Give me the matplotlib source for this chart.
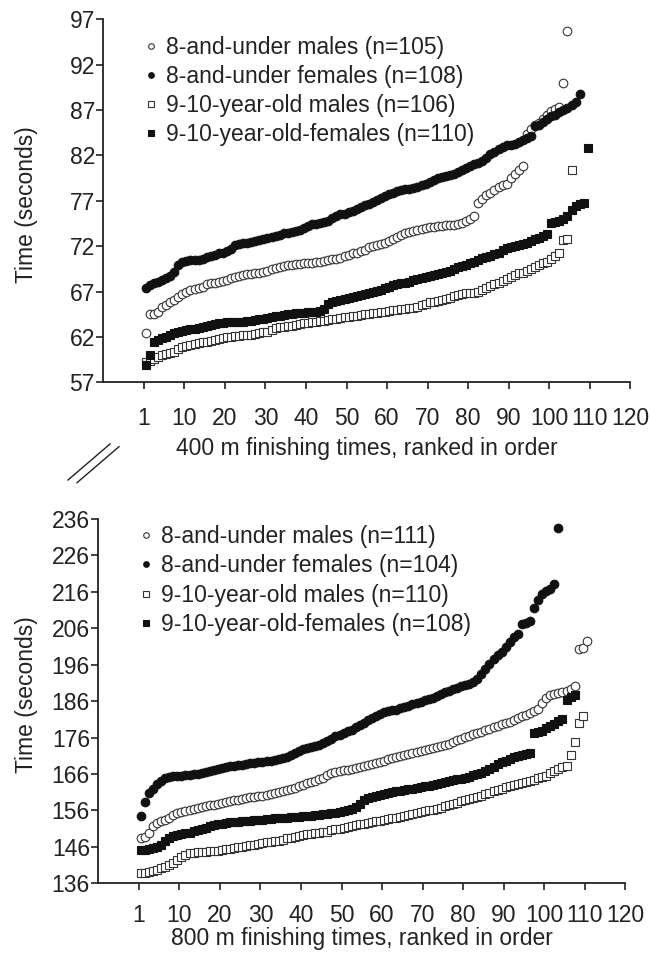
import numpy as np
import matplotlib.pyplot as plt
from matplotlib.lines import Line2D

plt.rcParams['font.family'] = ['Liberation Sans', 'DejaVu Sans']

# ---- 400 m times (seconds), ranked ----
m8_400 = [62.4, 64.5, 64.5, 64.7, 65.3, 65.5, 65.8, 66.1, 66.4, 66.7,
          67.0, 67.2, 67.3, 67.4, 67.5, 67.8, 67.9, 68.0, 68.1, 68.2,
          68.3, 68.5, 68.6, 68.7, 68.8, 68.9, 68.9, 69.0, 69.1, 69.2,
          69.3, 69.5, 69.6, 69.7, 69.8, 69.9, 69.9, 70.0, 70.0, 70.1,
          70.2, 70.2, 70.3, 70.3, 70.4, 70.5, 70.6, 70.6, 70.7, 70.9,
          71.0, 71.2, 71.3, 71.5, 71.6, 71.9, 72.0, 72.1, 72.2, 72.4,
          72.6, 72.8, 73.0, 73.2, 73.4, 73.6, 73.7, 73.8, 73.9, 74.0,
          74.1, 74.1, 74.2, 74.2, 74.3, 74.3, 74.3, 74.4, 74.6, 74.8,
          75.0, 75.3, 76.8, 77.2, 77.6, 77.9, 78.2, 78.5, 78.7, 78.8,
          79.5, 79.9, 80.4, 80.8, 84.4, 84.9, 85.3, 85.6, 86.0, 86.5,
          86.9, 87.1, 87.3, 90.0, 95.7]
f8_400 = [67.4, 67.7, 67.9, 68.1, 68.3, 68.5, 68.7, 69.2, 69.9, 70.3,
          70.4, 70.5, 70.5, 70.5, 70.6, 70.8, 70.9, 71.0, 71.2, 71.3,
          71.5, 71.7, 72.1, 72.2, 72.3, 72.4, 72.5, 72.6, 72.7, 72.8,
          72.9, 73.0, 73.1, 73.2, 73.4, 73.5, 73.6, 73.7, 73.8, 74.0,
          74.2, 74.4, 74.5, 74.6, 74.7, 74.8, 75.1, 75.3, 75.5, 75.6,
          75.8, 75.9, 76.1, 76.3, 76.5, 76.7, 76.9, 77.1, 77.3, 77.5,
          77.7, 77.9, 78.1, 78.2, 78.3, 78.3, 78.4, 78.5, 78.7, 78.9,
          79.1, 79.3, 79.5, 79.6, 79.7, 79.8, 80.0, 80.2, 80.4, 80.6,
          80.8, 81.0, 81.2, 81.4, 81.7, 82.1, 82.4, 82.7, 82.9, 83.1,
          83.2, 83.3, 83.5, 83.7, 83.9, 84.1, 85.2, 85.4, 85.7, 86.0,
          86.3, 86.5, 86.8, 87.0, 87.2, 87.5, 87.9, 88.8]
m910_400 = [59.2, 59.4, 59.6, 59.8, 60.0, 60.1, 60.2, 60.4, 60.7, 60.9,
            61.0, 61.1, 61.2, 61.3, 61.4, 61.5, 61.6, 61.7, 61.8, 61.9,
            62.0, 62.0, 62.1, 62.1, 62.2, 62.2, 62.2, 62.3, 62.4, 62.5,
            62.6, 62.8, 63.0, 63.1, 63.1, 63.2, 63.2, 63.3, 63.4, 63.5,
            63.5, 63.6, 63.7, 63.8, 63.8, 63.9, 64.0, 64.0, 64.1, 64.2,
            64.2, 64.3, 64.3, 64.4, 64.5, 64.5, 64.6, 64.6, 64.7, 64.8,
            64.9, 65.0, 65.0, 65.1, 65.1, 65.2, 65.2, 65.3, 65.5, 65.6,
            65.8, 65.9, 66.0, 66.1, 66.2, 66.3, 66.5, 66.6, 66.7, 66.8,
            66.8, 66.9, 67.0, 67.2, 67.4, 67.6, 67.8, 68.0, 68.2, 68.4,
            68.6, 68.8, 69.0, 69.1, 69.3, 69.5, 69.7, 69.9, 70.1, 70.3,
            70.6, 70.9, 71.2, 72.7, 72.8, 80.4]
f910_400 = [58.9, 60.0, 61.5, 61.7, 61.9, 62.0, 62.2, 62.4, 62.6, 62.7,
            62.8, 62.9, 62.9, 63.0, 63.1, 63.2, 63.3, 63.4, 63.5, 63.5,
            63.6, 63.6, 63.6, 63.7, 63.7, 63.8, 63.8, 63.9, 64.0, 64.0,
            64.1, 64.2, 64.3, 64.3, 64.4, 64.5, 64.5, 64.6, 64.6, 64.6,
            64.7, 64.7, 64.8, 64.9, 65.1, 65.6, 65.9, 66.0, 66.1, 66.2,
            66.3, 66.4, 66.5, 66.6, 66.7, 66.8, 67.0, 67.1, 67.2, 67.4,
            67.5, 67.7, 67.8, 67.9, 68.0, 68.1, 68.3, 68.4, 68.5, 68.6,
            68.7, 68.8, 68.9, 69.0, 69.2, 69.3, 69.5, 69.7, 69.8, 69.9,
            70.1, 70.3, 70.5, 70.7, 70.8, 70.9, 71.1, 71.3, 71.6, 71.8,
            71.9, 72.0, 72.1, 72.2, 72.4, 72.6, 72.8, 72.9, 73.1, 73.3,
            74.6, 74.7, 74.8, 75.0, 75.3, 76.0, 76.4, 76.6, 76.8, 82.8]

# ---- 800 m times (seconds), ranked ----
m8_800 = [148.4, 148.8, 149.9, 151.8, 152.5, 153.0, 153.4, 154.0, 154.8, 155.3,
          155.6, 155.9, 156.2, 156.4, 156.6, 156.9, 157.1, 157.4, 157.6, 157.9,
          158.1, 158.3, 158.6, 158.8, 159.0, 159.2, 159.4, 159.6, 159.8, 159.9,
          160.1, 160.3, 160.5, 160.8, 161.1, 161.4, 161.6, 161.9, 162.2, 162.6,
          163.0, 163.4, 163.8, 164.2, 164.6, 165.0, 165.6, 166.2, 166.6, 166.8,
          167.0, 167.2, 167.4, 167.6, 167.8, 168.1, 168.4, 168.7, 169.0, 169.3,
          169.7, 170.0, 170.3, 170.6, 170.9, 171.2, 171.5, 171.7, 172.0, 172.3,
          172.6, 172.9, 173.2, 173.5, 173.8, 174.0, 174.3, 174.7, 175.2, 175.7,
          176.1, 176.5, 176.9, 177.2, 177.6, 178.0, 178.4, 178.8, 179.2, 179.6,
          180.0, 180.4, 180.8, 181.3, 181.8, 182.3, 182.8, 183.3, 183.8, 185.5,
          186.8, 187.6, 188.0, 188.3, 188.5, 188.8, 189.4, 190.2, 200.3, 200.5,
          202.4]
f8_800 = [154.5, 158.2, 160.9, 162.0, 163.2, 164.0, 164.8, 165.2, 165.4, 165.5,
          165.5, 165.6, 165.7, 165.9, 166.1, 166.3, 166.5, 166.8, 167.1, 167.4,
          167.6, 167.9, 168.1, 168.3, 168.5, 168.6, 168.8, 169.0, 169.1, 169.3,
          169.4, 169.5, 169.7, 169.9, 170.2, 170.5, 170.8, 171.3, 171.8, 172.3,
          172.8, 173.2, 173.5, 173.8, 174.1, 174.5, 175.0, 175.6, 176.3, 176.8,
          177.2, 177.7, 178.2, 178.8, 179.5, 180.1, 180.7, 181.3, 181.9, 182.5,
          183.0, 183.3, 183.5, 183.7, 184.0, 184.3, 184.7, 185.1, 185.5, 185.9,
          186.3, 186.6, 186.9, 187.3, 187.9, 188.5, 188.9, 189.3, 189.7, 190.1,
          190.5, 190.7, 191.2, 192.2, 193.5, 194.8, 196.3, 197.7, 198.6, 199.5,
          200.8, 202.3, 203.5, 204.5, 207.2, 207.5, 207.9, 211.5, 213.7, 215.5,
          216.3, 216.8, 218.2, 233.5]
m910_800 = [138.7, 138.8, 139.0, 139.3, 139.7, 140.2, 140.5, 140.9, 141.6, 142.4,
            143.2, 143.8, 144.2, 144.4, 144.5, 144.6, 144.7, 144.8, 144.9, 145.0,
            145.1, 145.3, 145.5, 145.7, 145.9, 146.0, 146.2, 146.4, 146.5, 146.7,
            147.0, 147.2, 147.4, 147.5, 147.7, 148.0, 148.3, 148.5, 148.8, 149.0,
            149.2, 149.4, 149.6, 149.7, 149.8, 150.0, 150.2, 150.5, 150.8, 151.0,
            151.2, 151.4, 151.6, 151.9, 152.2, 152.4, 152.6, 152.8, 153.0, 153.2,
            153.4, 153.6, 153.8, 154.0, 154.3, 154.5, 154.8, 155.0, 155.2, 155.5,
            155.8, 156.0, 156.2, 156.5, 156.8, 157.1, 157.4, 157.7, 158.1, 158.5,
            158.8, 159.2, 159.5, 159.7, 160.0, 160.5, 160.9, 161.3, 161.7, 162.0,
            162.3, 162.6, 162.9, 163.2, 163.5, 163.8, 164.1, 164.4, 164.8, 165.3,
            165.5, 166.2, 166.8, 167.3, 167.8, 168.2, 171.2, 174.7, 179.9, 181.9]
f910_800 = [145.1, 145.2, 145.4, 145.7, 146.0, 146.6, 147.5, 148.3, 148.9, 149.2,
            149.5, 149.7, 149.9, 150.3, 150.6, 151.0, 151.3, 151.6, 151.9, 152.2,
            152.4, 152.6, 152.7, 152.8, 152.9, 153.0, 153.1, 153.2, 153.3, 153.4,
            153.5, 153.6, 153.7, 153.8, 153.9, 153.9, 154.0, 154.1, 154.2, 154.3,
            154.4, 154.5, 154.6, 154.7, 154.8, 154.9, 155.0, 155.2, 155.4, 155.6,
            155.8, 156.1, 156.5, 157.0, 157.8, 158.8, 159.4, 159.7, 160.0, 160.3,
            160.5, 160.7, 161.0, 161.2, 161.4, 161.6, 161.8, 162.0, 162.2, 162.4,
            162.6, 162.8, 163.0, 163.3, 163.6, 163.9, 164.1, 164.3, 164.5, 164.7,
            164.9, 165.2, 165.6, 166.0, 166.4, 166.9, 167.4, 168.0, 168.8, 169.3,
            169.7, 170.2, 170.6, 170.9, 171.2, 171.5, 171.8, 177.2, 177.5, 177.8,
            178.6, 179.2, 179.8, 180.5, 181.0, 186.4, 187.2, 187.8]

xtick_pos = list(range(0, 121, 10))
xtick_lab = ['1'] + [str(v) for v in range(10, 121, 10)]

styles = [
    dict(marker='o', mfc='white', mec='#333333', ms=6.2, mew=0.8),
    dict(marker='o', mfc='#111111', mec='#111111', ms=6.2, mew=0.8),
    dict(marker='s', mfc='white', mec='#333333', ms=5.6, mew=0.8),
    dict(marker='s', mfc='#111111', mec='#111111', ms=5.6, mew=0.8),
]
names = ['8-and-under males', '8-and-under females',
         '9-10-year-old males', '9-10-year-old-females']

W, H = 651, 959
FS = 16.5
fig = plt.figure(figsize=(W / 100, H / 100), dpi=100)


def panel(rect, series, yticks, xlabel, lab_y, tick_pad, leg_y):
    ax = fig.add_axes(rect)
    for vals, st, nm in zip(series, styles, names):
        x = np.arange(1, len(vals) + 1) - 0.5
        ax.plot(x, vals, ls='none', label='%s (n=%d)' % (nm, len(vals)), **st)
    ax.set_xlim(-10, 120)
    ax.set_ylim(yticks[0], yticks[-1])
    ax.set_yticks(yticks)
    ax.set_xticks(xtick_pos)
    ax.set_xticklabels(xtick_lab)
    for s in ['top', 'right']:
        ax.spines[s].set_visible(False)
    for s in ['left', 'bottom']:
        ax.spines[s].set_linewidth(1.3)
        ax.spines[s].set_color('#222222')
    ax.tick_params(axis='y', direction='out', length=5, width=1.2,
                   labelsize=FS, pad=1, colors='#222222')
    ax.tick_params(axis='x', direction='out', length=5, width=1.2,
                   labelsize=FS, pad=tick_pad, colors='#222222')
    ax.set_xlabel(xlabel, fontsize=FS, color='#222222')
    ax.xaxis.set_label_coords(0.5, lab_y)
    leg = ax.legend(loc='upper left', bbox_to_anchor=(0.062, leg_y), frameon=False,
                    fontsize=FS, markerscale=0.65, handlelength=0.5,
                    handletextpad=0.4, labelspacing=0.27, borderaxespad=0)
    for t in leg.get_texts():
        t.set_color('#222222')
    return ax


ax1 = panel([103.3 / W, 1 - 382.4 / H, 527 / W, 363.2 / H],
            [m8_400, f8_400, m910_400, f910_400],
            list(range(57, 98, 5)),
            '400 m finishing times, ranked in order', -0.15, 13, 0.98)
ax2 = panel([98.3 / W, 1 - 883.3 / H, 527 / W, 364.3 / H],
            [m8_800, f8_800, m910_800, f910_800],
            list(range(136, 237, 10)),
            '800 m finishing times, ranked in order', -0.12, 10, 1.008)

fig.text(27 / W, 1 - 205 / H, 'Time (seconds)', rotation=90, ha='center',
         va='center', fontsize=FS, color='#222222')
fig.text(27 / W, 1 - 695 / H, 'Time (seconds)', rotation=90, ha='center',
         va='center', fontsize=FS, color='#222222')

# axis break marks between the panels
for dx in (0, 9):
    fig.add_artist(Line2D([(68 + dx) / W, (110 + dx) / W],
                          [1 - (480 + dx * 0.3) / H, 1 - (444 + dx * 0.3) / H],
                          color='#222222', lw=1.0))

fig.savefig('out.png', dpi=100)
